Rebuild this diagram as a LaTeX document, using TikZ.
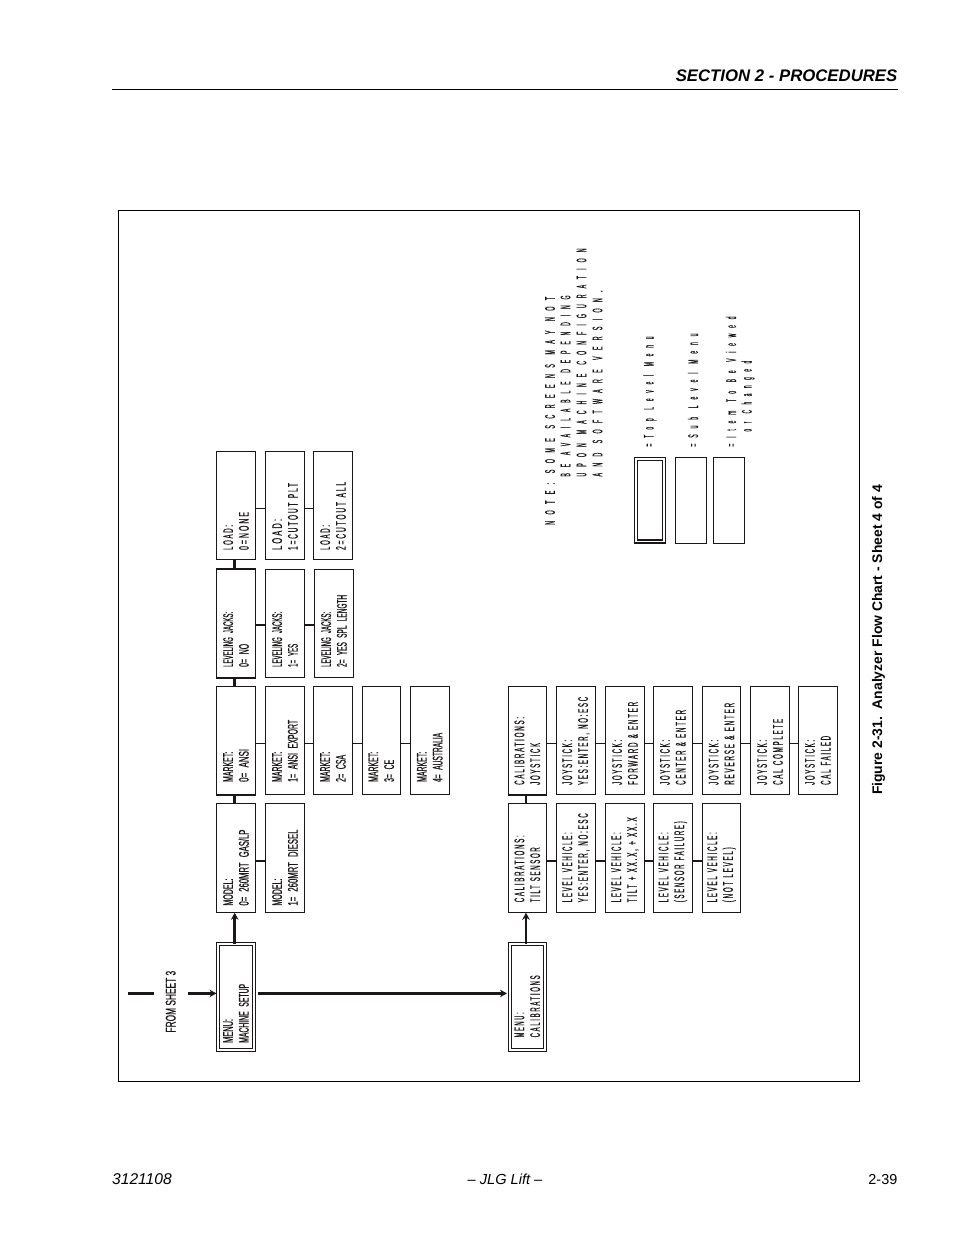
\documentclass[tikz,border=0pt]{standalone}
\usepackage{fontspec}
\usepackage{graphicx}
\usetikzlibrary{arrows.meta}
\setmainfont{Liberation Sans}
\newfontfamily\tk[FakeStretch=0.5,FakeBold=0.4]{Liberation Sans}
\newfontfamily\tkm[FakeStretch=0.5,FakeBold=0.4,LetterSpace=14,WordSpace=1.6]{Liberation Sans}
\newfontfamily\tkw[FakeStretch=0.6,FakeBold=0.4,LetterSpace=70,WordSpace=1.2]{Liberation Sans}
\newcommand\tl[2]{\resizebox{#1pt}{\height}{\tk #2}}
\newcommand\tm[2]{\resizebox{#1pt}{\height}{\tkm #2}}
\newcommand\tw[2]{\resizebox{#1pt}{\height}{\tkw #2}}
\definecolor{ink}{HTML}{1A1716}
\tikzset{
  box/.style={draw=ink,line width=1pt,rotate=90,minimum width=108.5pt,minimum height=38.6pt,
    text=ink,font=\fontsize{14}{15.8}\selectfont,align=left,inner ysep=0pt},
  ins/.style={inner xsep=#1,text width=108.5pt-2*#1},
  menubox/.style={box,double,double distance=2pt,line width=.9pt,minimum width=105.7pt,minimum height=35.4pt},
  dins/.style={inner xsep=#1,text width=105.7pt-2*#1},
  thin con/.style={draw=ink,line width=1pt},
  thick con/.style={draw=ink,line width=2pt},
  heavy/.style={draw=ink,line width=2.8pt},
  arrowed/.style={heavy,-{Stealth[length=7pt,width=7.5pt]}},
  edgeheavy/.style={draw=ink,line width=2pt},
  legendtext/.style={rotate=90,anchor=west,inner sep=0pt,text=ink,font=\fontsize{14}{15}\selectfont},
  page/.style={text=black,inner sep=0pt},
}
\begin{document}
\begin{tikzpicture}[x=1pt,y=-1pt]
\useasboundingbox (0,0) rectangle (954,1235);
\fill[white] (0,0) rectangle (954,1235);

% page furniture
\node[page,anchor=base east,font=\fontsize{16.75}{18}\selectfont\bfseries\itshape] (head) at (897.5,81) {SECTION 2 - PROCEDURES};
\coordinate (ruleL) at (112,89.5);
\coordinate (ruleR) at (898,89.5);
\draw[black,line width=1pt] (ruleL) -- (ruleR);
\node[draw=black,line width=.8pt,minimum width=741pt,minimum height=871pt,inner sep=0pt] (frame) at (489,646) {};
\node[page,rotate=90,anchor=base,font=\fontsize{13.9}{16}\selectfont\bfseries] (fig) at (882,640) {Figure 2-31.\ \ Analyzer Flow Chart - Sheet 4 of 4};
\node[page,anchor=base west,font=\fontsize{15.6}{16}\selectfont\itshape] (docno) at (112,1184) {3121108};
\node[page,anchor=base,font=\fontsize{14.6}{16}\selectfont\itshape] (jlg) at (505,1184) {– JLG Lift –};
\node[page,anchor=base east,font=\fontsize{14.4}{16}\selectfont] (pg) at (897.5,1184) {2-39};

% menus
\node[menubox,dins=7pt] (menuA) at (236,997) {\tl{24}{MENU:}\\\tl{59}{MACHINE SETUP}};
\node[menubox,dins=12.5pt] (menuB) at (527.3,997) {\tm{25}{MENU:}\\\tm{62}{CALIBRATIONS}};

% row 1
\node[box,ins=6.7pt] (model0) at (236,858) {\tl{27}{MODEL:}\\\tl{76}{0= 260MRT GAS/LP}};
\node[box,ins=6.7pt] (model1) at (285,858) {\tl{27}{MODEL:}\\\tl{76}{1= 260MRT DIESEL}};

\node[box,ins=13pt] (mkt0) at (236,740.6) {\tl{30}{MARKET:}\\\tl{33}{0= ANSI}};
\node[box,ins=13pt] (mkt1) at (285,740.6) {\tl{30}{MARKET:}\\\tl{62}{1= ANSI EXPORT}};
\node[box,ins=13pt] (mkt2) at (333,740.6) {\tl{30}{MARKET:}\\\tl{27}{2= CSA}};
\node[box,ins=13pt] (mkt3) at (381.3,740.6) {\tl{30}{MARKET:}\\\tl{22}{3= CE}};
\node[box,ins=13pt] (mkt4) at (429.8,740.6) {\tl{30}{MARKET:}\\\tl{49}{4= AUSTRALIA}};

\node[box,ins=11pt] (lev0) at (236,623.6) {\tl{55}{LEVELING JACKS:}\\\tl{23}{0= NO}};
\node[box,ins=11pt] (lev1) at (285,623.6) {\tl{55}{LEVELING JACKS:}\\\tl{23}{1= YES}};
\node[box,ins=11pt] (lev2) at (334,623.6) {\tl{55}{LEVELING JACKS:}\\\tl{72}{2= YES SPL LENGTH}};

\node[box,ins=10pt] (load0) at (236,505.7) {\tm{25}{LOAD:}\\\tm{38}{0=NONE}};
\node[box,ins=10pt] (load1) at (285,505.7) {\tm{31}{LOAD:}\\\tm{67}{1=CUTOUT PLT}};
\node[box,ins=10pt] (load2) at (333,505.7) {\tm{25}{LOAD:}\\\tm{68}{2=CUTOUT ALL}};

% row 2
\node[box,ins=10pt] (tilt0) at (527.3,858) {\tm{67}{CALIBRATIONS:}\\\tm{55}{TILT SENSOR}};
\node[box,ins=10pt] (tilt1) at (576,858) {\tm{70}{LEVEL VEHICLE:}\\\tm{89}{YES:ENTER, NO:ESC}};
\node[box,ins=10pt] (tilt2) at (625,858) {\tm{70}{LEVEL VEHICLE:}\\\tm{85}{TILT + XX.X, + XX.X}};
\node[box,ins=10pt] (tilt3) at (672.8,858) {\tm{70}{LEVEL VEHICLE:}\\\tm{81}{(SENSOR FAILURE)}};
\node[box,ins=10pt] (tilt4) at (721.5,858) {\tm{70}{LEVEL VEHICLE:}\\\tm{55}{(NOT LEVEL)}};

\node[box,ins=10pt] (joy0) at (527.3,740.6) {\tm{68}{CALIBRATIONS:}\\\tm{42}{JOYSTICK}};
\node[box,ins=10pt] (joy1) at (576,740.6) {\tm{45}{JOYSTICK:}\\\tm{88}{YES:ENTER, NO:ESC}};
\node[box,ins=10pt] (joy2) at (625,740.6) {\tm{45}{JOYSTICK:}\\\tm{83}{FORWARD \& ENTER}};
\node[box,ins=10pt] (joy3) at (672.8,740.6) {\tm{45}{JOYSTICK:}\\\tm{75}{CENTER \& ENTER}};
\node[box,ins=10pt] (joy4) at (721.5,740.6) {\tm{45}{JOYSTICK:}\\\tm{82}{REVERSE \& ENTER}};
\node[box,ins=10pt] (joy5) at (770,740.6) {\tm{45}{JOYSTICK:}\\\tm{66}{CAL COMPLETE}};
\node[box,ins=10pt] (joy6) at (817.8,740.6) {\tm{45}{JOYSTICK:}\\\tm{49}{CAL FAILED}};

% heavy box edges
\draw[edgeheavy] (mkt0.north west) -- (mkt0.south west);
\draw[edgeheavy] (lev0.north west) -- (lev0.south west);
\draw[edgeheavy] (lev0.north east) -- (lev0.south east);
\draw[edgeheavy] (joy0.north west) -- (joy0.south west);

% flow from sheet 3
\coordinate (s1) at (128,993.4);
\coordinate (s2) at (154,993.4);
\coordinate (s3) at (188,993.4);
\coordinate (s4) at (216.5,993.4);
\coordinate (a1) at (257.6,993.4);
\coordinate (a2) at (507,993.4);
\draw[heavy] (s1) -- (s2);
\draw[arrowed] (s3) -- (s4);
\draw[arrowed] (a1) -- (a2);
\node[rotate=90,anchor=west,inner sep=0pt,text=ink,font=\fontsize{14}{15}\selectfont] (from) at (170.7,1032.7) {\tl{61.7}{FROM SHEET 3}};

% vertical links
\draw[arrowed] ([xshift=-1.3pt]menuA.east) -- ([xshift=-1.3pt]model0.west);
\draw[arrowed] ([xshift=-1.3pt]menuB.east) -- ([xshift=-1.3pt]tilt0.west);
\draw[heavy] ([xshift=-1.3pt]model0.east) -- ([xshift=-1.3pt]mkt0.west);
\draw[heavy] ([xshift=-1.3pt]mkt0.east) -- ([xshift=-1.3pt]lev0.west);
\draw[heavy] ([xshift=-1.3pt]lev0.east) -- ([xshift=-1.3pt]load0.west);
\draw[heavy] ([xshift=-1.3pt]tilt0.east) -- ([xshift=-1.3pt]joy0.west);

% horizontal links
\draw[thick con] ([yshift=-2.8pt]model0.south) -- ([yshift=-2.8pt]model1.north);
\foreach \a/\b in {mkt0/mkt1,mkt1/mkt2,mkt2/mkt3,mkt3/mkt4}
  \draw[thin con] ([yshift=-2.4pt]\a.south) -- ([yshift=-2.4pt]\b.north);
\foreach \a/\b in {lev0/lev1,lev1/lev2}
  \draw[thick con] ([yshift=-1.4pt]\a.south) -- ([yshift=-1.4pt]\b.north);
\foreach \a/\b in {load0/load1,load1/load2}
  \draw[thin con] ([yshift=-2.4pt]\a.south) -- ([yshift=-2.4pt]\b.north);
\foreach \a/\b in {tilt0/tilt1,tilt1/tilt2,tilt2/tilt3,tilt3/tilt4}
  \draw[thick con] ([yshift=-3pt]\a.south) -- ([yshift=-3pt]\b.north);
\foreach \a/\b in {joy0/joy1,joy1/joy2,joy2/joy3,joy3/joy4,joy4/joy5,joy5/joy6}
  \draw[thin con] ([yshift=-2.6pt]\a.south) -- ([yshift=-2.6pt]\b.north);

% note
\node[legendtext] (n1) at (550,525) {\tw{228}{NOTE: SOME SCREENS MAY NOT}};
\node[legendtext] (n2) at (565.5,476.7) {\tw{181}{BE AVAILABLE DEPENDING}};
\node[legendtext] (n3) at (581.5,476.7) {\tw{228}{UPON MACHINE CONFIGURATION}};
\node[legendtext] (n4) at (597.5,476.7) {\tw{186}{AND SOFTWARE VERSION.}};

% legend
\node[draw=ink,double,double distance=1.6pt,line width=1.3pt,rotate=90,minimum width=82.3pt,minimum height=27.7pt,inner sep=0pt] (lg1) at (650,500.3) {};
\node[draw=ink,line width=1pt,rotate=90,minimum width=85.5pt,minimum height=31pt,inner sep=0pt] (lg2) at (691,500.3) {};
\node[draw=ink,line width=1pt,rotate=90,minimum width=85.5pt,minimum height=31pt,inner sep=0pt] (lg3) at (729,500.3) {};
\node[legendtext] (l1) at (650,446.7) {\tw{110}{=Top Level Menu}};
\node[legendtext] (l2) at (693,446.7) {\tw{113}{=Sub Level Menu}};
\node[legendtext] (l3) at (731,446.7) {\tw{130}{=Item To Be Viewed}};
\node[legendtext] (l4) at (748,431.7) {\tw{70.7}{or Changed}};
\end{tikzpicture}
\end{document}
